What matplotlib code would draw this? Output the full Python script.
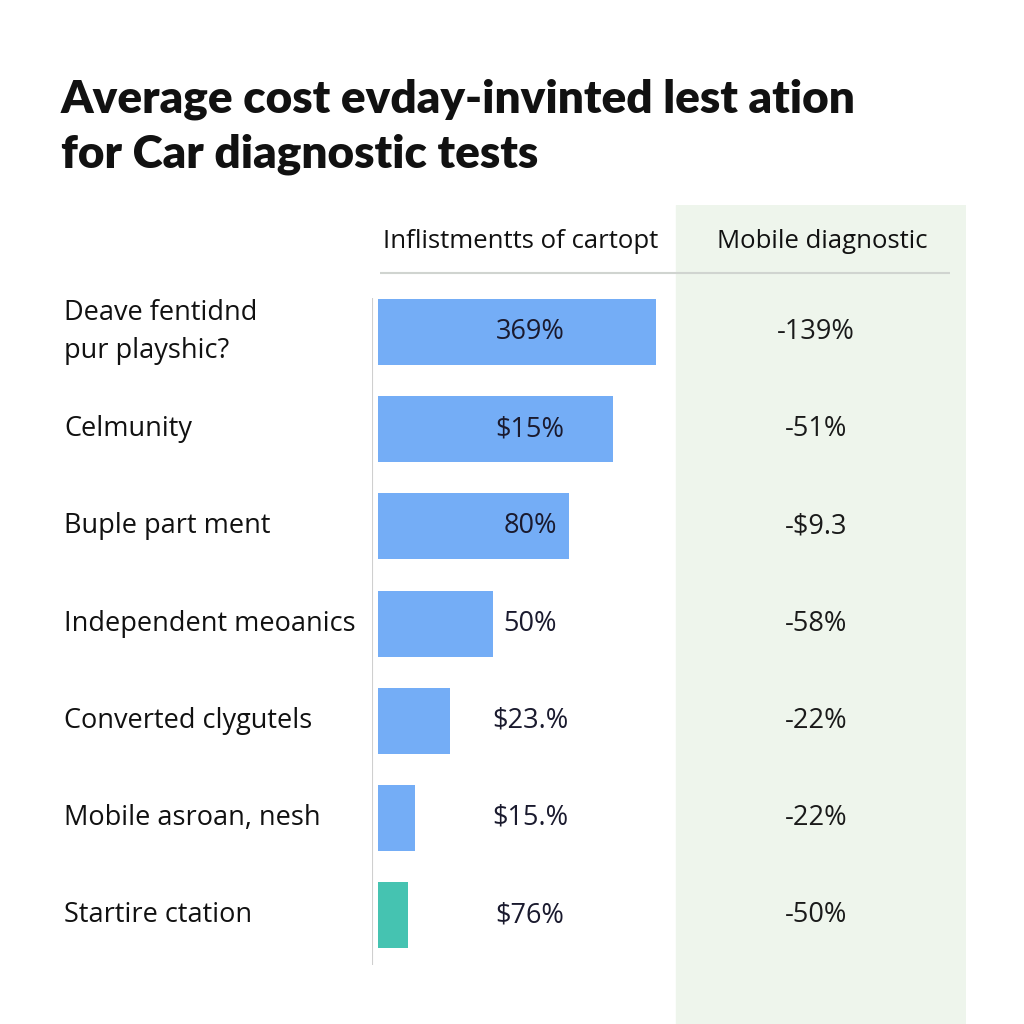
import matplotlib.pyplot as plt

# rows of the chart, top to bottom
categories = ["Deave fentidnd\npur playshic?", "Celmunity", "Buple part ment",
              "Independent meoanics", "Converted clygutels", "Mobile asroan, nesh",
              "Startire ctation"]
bar_values = [92.7, 78.3, 63.7, 38.3, 24.0, 12.3, 10.0]
bar_labels = ["369%", "$15%", "80%", "50%", "$23.%", "$15.%", "$76%"]
mobile_labels = ["-139%", "-51%", "-$9.3", "-58%", "-22%", "-22%", "-50%"]
bar_colors = ["#74adf6"] * 6 + ["#45c3b1"]

col_headers = ["Inflistmentts of cartopt", "Mobile diagnostic"]
title = "Average cost evday-invinted lest ation\nfor Car diagnostic tests"

fig = plt.figure(figsize=(10.24, 10.24), dpi=100)
fig.patch.set_facecolor("white")

fig.text(61 / 1024, 1 - 79 / 1024, title, fontsize=33, fontweight="heavy",
         family=["Lato", "DejaVu Sans"], va="top", ha="left", color="#111111",
         linespacing=1.38)

ax = fig.add_axes([372 / 1024, 0, 594 / 1024, 1 - 205 / 1024])
ax.set_xlim(-2, 196)
ax.set_ylim(7.12, -1.307)
ax.axis("off")

# green panel behind mobile column
ax.axvspan(99.3, 196, color="#eef5ec", zorder=0)

ys = list(range(len(categories)))
ax.barh(ys, bar_values, height=0.68, color=bar_colors, zorder=2)

for y, lab, mlab in zip(ys, bar_labels, mobile_labels):
    ax.text(50.7, y, lab, ha="center", va="center", fontsize=19.5,
            family="Open Sans", color="#1a1a2e", zorder=3)
    ax.text(146, y, mlab, ha="center", va="center", fontsize=19.5,
            family="Open Sans", color="#1a1a1a", zorder=3)

for y, cat in zip(ys, categories):
    ax.text(-104.5, y, cat, ha="left", va="center", fontsize=19.5,
            family="Open Sans", color="#111111", linespacing=1.5)

# column headers and rule
ax.text(47.5, -0.93, col_headers[0], ha="center", va="center", fontsize=18.5,
        family="Open Sans", color="#111111")
ax.text(148, -0.93, col_headers[1], ha="center", va="center", fontsize=18.5,
        family="Open Sans", color="#111111")
ax.hlines(-0.607, 0.7, 190.7, color="#d0d4d0", linewidth=1.5)
ax.vlines(-2, -0.35, 6.51, color="#cfcfcf", linewidth=1.5)

fig.savefig("out.png", dpi=100, facecolor="white")
